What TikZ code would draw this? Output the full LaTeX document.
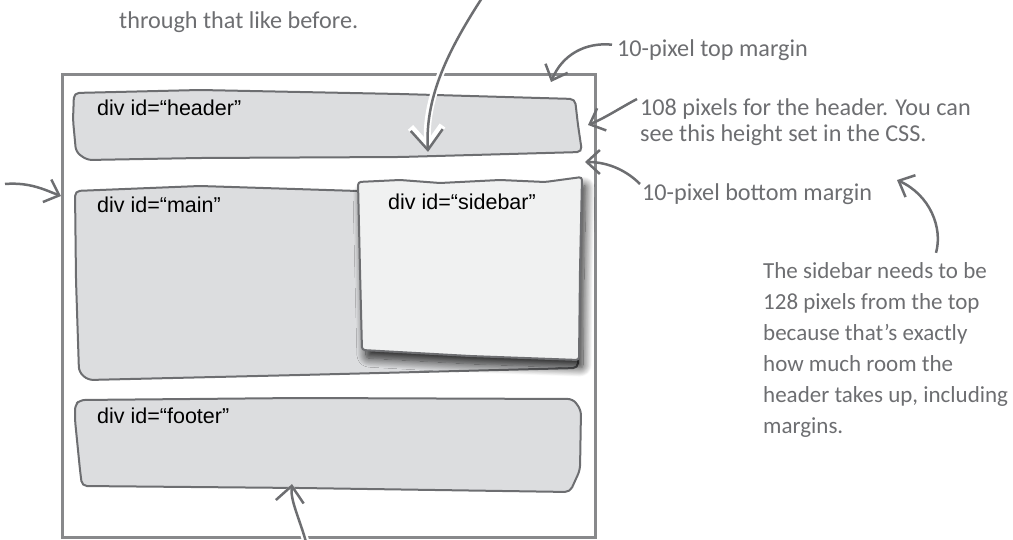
\documentclass[tikz,border=0pt]{standalone}
\usepackage{fontspec}
\usepackage{xcolor}
\usepackage{tikz}
\usetikzlibrary{arrows.meta, shadows.blur}
\setmainfont{Liberation Sans}
\newfontfamily\handfont{Carlito}

\definecolor{inkgray}{HTML}{6D6E71}
\definecolor{framegray}{HTML}{88898B}
\definecolor{boxfill}{HTML}{DCDDDF}
\definecolor{sidefill}{HTML}{F0F1F1}

\begin{document}
\begin{tikzpicture}[
    x=1pt, y=-1pt,
    frame/.style={draw=framegray, line width=3pt},
    divbox/.style={draw=inkgray, fill=boxfill, line width=2pt, rounded corners=5pt},
    sidebox/.style={draw=inkgray, fill=sidefill, line width=2pt, rounded corners=3pt,
        blur shadow={shadow xshift=4pt, shadow yshift=-8pt, shadow opacity=85,
            shadow blur radius=9pt, shadow blur steps=16}},
    divlabel/.style={inner sep=0pt, anchor=base west, font=\fontsize{21.5}{24}\selectfont},
    note/.style={inner sep=0pt, anchor=base west, align=left, text=inkgray,
        font=\handfont\fontsize{24.2}{31}\selectfont},
    notearrow/.style={-{Straight Barb[length=13pt, width=24pt]}, line width=2.5pt, draw=inkgray},
    bigarrow/.style={-{Straight Barb[length=20pt, width=32pt]}, line width=2.5pt, draw=inkgray},
    halo/.style={line width=7pt, draw=white}
]
\useasboundingbox (0,0) rectangle (1013,540);

% page and the four divs
\draw[frame] (62,75) rectangle (595,537);
\path[divbox] (74,93) -- (200,90) -- (400,94) -- (575,99) -- (578,125) -- (582,152)
    -- (400,157) -- (200,158) -- (87,160) -- (76,152) -- (73,120) -- cycle;
\path[divbox] (75,191) -- (200,186) -- (358,191) -- (578,190) -- (579,300) -- (578,368)
    -- (300,375) -- (88,380) -- (79,372) -- (76,280) -- cycle;
\path[divbox] (75,405) -- (80,400) -- (300,398) -- (573,399) -- (581,410) -- (580,470)
    -- (570,492) -- (300,488) -- (82,486) -- (80,470) -- (75,420) -- cycle;
\path[sidebox] (358,182) -- (400,180) -- (440,183) -- (500,180) -- (545,182) -- (582,177)
    -- (580,270) -- (579,360) -- (470,356) -- (362,350) -- (360,270) -- cycle;

\node[divlabel] (hdrlbl) at (97,116) {div id=“header”};
\node[divlabel] (mainlbl) at (97,213) {div id=“main”};
\node[divlabel] (sidelbl) at (388,210) {div id=“sidebar”};
\node[divlabel] (footlbl) at (97,423) {div id=“footer”};

% notes (multi-line ones sit on their last baseline)
\node[note] (prevnote) at (119,29) {through that like before.};
\node[note] (topnote) at (617,57) {10-pixel top margin};
\node[note, font=\handfont\fontsize{24.2}{26}\selectfont] (hdrnote) at (640,142)
    {108 pixels for the header. You can\\see this height set in the CSS.};
\node[note] (botnote) at (642,201) {10-pixel bottom margin};
\node[note, font=\handfont\fontsize{23}{31}\selectfont] (sidenote) at (763,433)
    {The sidebar needs to be\\128 pixels from the top\\because that’s exactly\\how much room the\\header takes up, including\\margins.};

\coordinate (topstart) at (482,-2);
\coordinate (headtip) at (428,152);
\coordinate (toptip) at (551,82);
\coordinate (hdrtip) at (588,125);
\coordinate (bottip) at (585,162);
\coordinate (sidetip) at (897,180);
\coordinate (leftstart) at (5,184);
\coordinate (maintip) at (61,196);
\coordinate (footstart) at (306,542);
\coordinate (foottip) at (292,484);

% arrows
\draw[halo, -{Straight Barb[length=20pt, width=32pt]}] (topstart) .. controls (445,55) and (425,100) .. (headtip);
\draw[bigarrow] (topstart) .. controls (445,55) and (425,100) .. (headtip);
\draw[notearrow] ([xshift=-5pt, yshift=6pt]topnote.west) .. controls (585,42) and (562,55) .. (toptip);
\draw[notearrow] ([xshift=-3pt]hdrnote.north west) .. controls (620,108) and (605,118) .. (hdrtip);
\draw[notearrow] ([xshift=-2pt]botnote.north west) .. controls (628,172) and (610,162) .. (bottip);
\draw[notearrow] ([xshift=173pt, yshift=9pt]sidenote.north west) .. controls (943,228) and (930,195) .. (sidetip);
\draw[notearrow] (leftstart) .. controls (30,182) and (45,190) .. (maintip);
\draw[halo, -{Straight Barb[length=16pt, width=28pt]}] (footstart) .. controls (300,520) and (290,500) .. (foottip);
\draw[notearrow, -{Straight Barb[length=16pt, width=28pt]}] (footstart) .. controls (300,520) and (290,500) .. (foottip);
\end{tikzpicture}
\end{document}
